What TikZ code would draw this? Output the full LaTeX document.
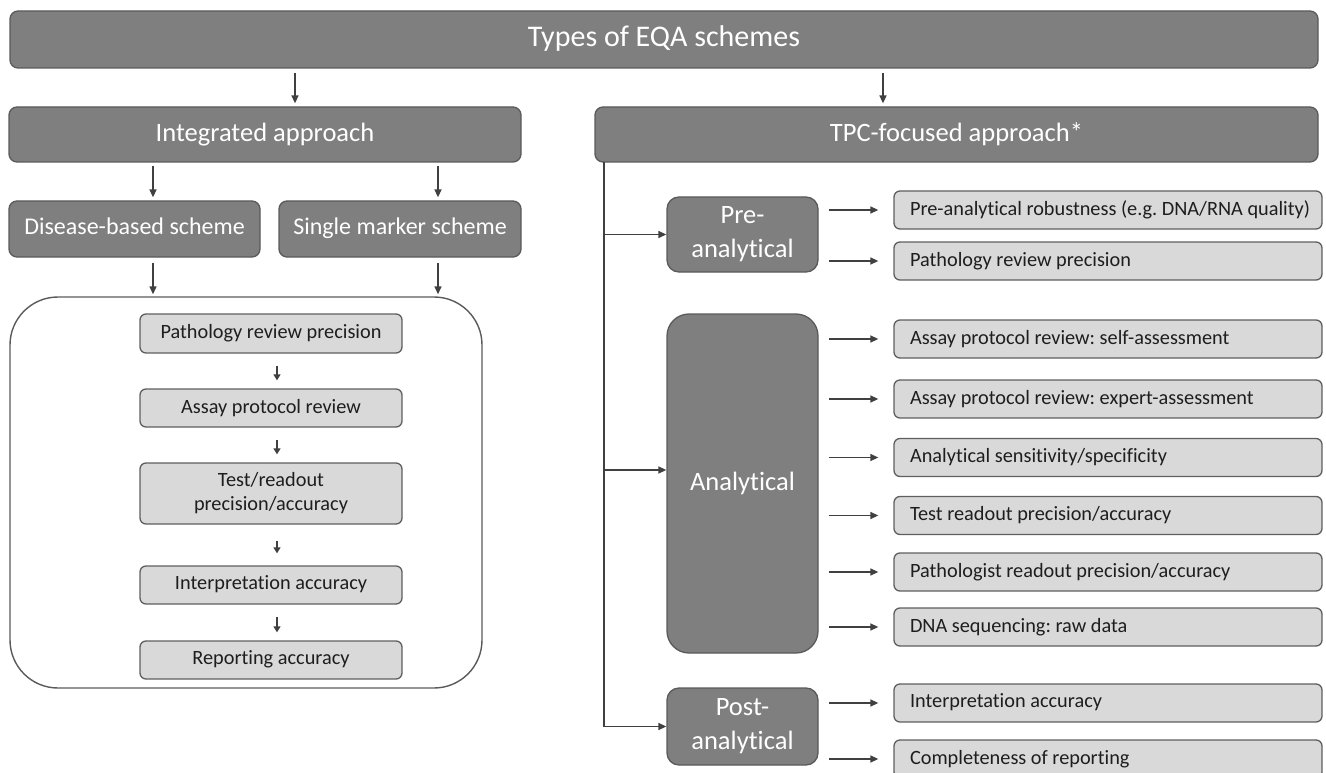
\documentclass[tikz,border=0pt]{standalone}
\usepackage{fontspec}
\setmainfont{Carlito}[Ligatures=NoCommon]
\frenchspacing
\usetikzlibrary{arrows.meta,calc}
\definecolor{darkfill}{HTML}{7F7F7F}
\definecolor{darkline}{HTML}{5A5A5A}
\definecolor{lightfill}{HTML}{D9D9D9}
\definecolor{lightline}{HTML}{5F5F5F}
\definecolor{arrowcol}{HTML}{404040}
\definecolor{txt}{HTML}{1E1E1E}
\newcommand{\vstrut}{\rule[-0.2em]{0pt}{0.8em}}
\newcommand{\rboxtext}[1]{\makebox[428pt][l]{\hspace{16pt}\vstrut #1}}
\tikzset{
  darkbox/.style={rectangle, rounded corners=8pt, fill=darkfill, draw=darkline, line width=1.3pt, text=white, inner sep=0pt, align=center},
  lightbox/.style={rectangle, rounded corners=6pt, fill=lightfill, draw=lightline, line width=1.3pt, text=txt, inner sep=0pt, align=center, minimum width=262pt, font=\fontsize{20.3}{24}\selectfont},
  rightbox/.style={rectangle, rounded corners=6pt, fill=lightfill, draw=lightline, line width=1.3pt, text=txt, inner sep=0pt, minimum height=38pt, font=\fontsize{20.3}{24}\selectfont},
  oneline/.style={execute at begin node={\vstrut}},
  arr/.style={draw=arrowcol, line width=1.4pt, -{Triangle[length=8pt,width=7pt]}},
  sarr/.style={draw=arrowcol, line width=1.4pt, -{Triangle[length=6pt,width=7pt]}},
  line/.style={draw=arrowcol, line width=1.4pt},
}
\begin{document}
\begin{tikzpicture}[x=1pt,y=-1pt]
\useasboundingbox (0,0) rectangle (1326,773);
% top
\node[darkbox, oneline, minimum width=1308pt, minimum height=57pt, font=\fontsize{30}{35}\selectfont] (top) at (664,39.5) {Types of EQA schemes};
\node[darkbox, oneline, minimum width=512pt, minimum height=55pt, font=\fontsize{26.5}{31}\selectfont] (integ) at (265,134.5) {Integrated approach};
\node[darkbox, oneline, minimum width=723pt, minimum height=55pt, font=\fontsize{26.5}{31}\selectfont] (tpc) at (956.5,134.5) {TPC-focused approach*};
\node[darkbox, oneline, minimum width=251pt, minimum height=56pt, font=\fontsize{24}{28}\selectfont] (disease) at (134.5,229) {Disease-based scheme};
\node[darkbox, oneline, minimum width=242pt, minimum height=56pt, font=\fontsize{24}{28}\selectfont] (single) at (400,229) {Single marker scheme};
% container
\node[rectangle, rounded corners=48pt, draw=darkline, line width=1.4pt, minimum width=472pt, minimum height=391pt, inner sep=0pt] (cont) at (246,492.5) {};
\node[lightbox, oneline, minimum height=39pt] (l1) at (271,333.5) {Pathology review precision};
\node[lightbox, oneline, minimum height=38pt] (l2) at (271,408) {Assay protocol review};
\node[lightbox, minimum height=61pt] (l3) at (271,493.5) {Test/readout\\precision/accuracy};
\node[lightbox, oneline, minimum height=38pt] (l4) at (271,585) {Interpretation accuracy};
\node[lightbox, oneline, minimum height=38pt] (l5) at (271,660) {Reporting accuracy};
% top arrows
\coordinate (xa) at (295,0);
\coordinate (xb) at (883,0);
\coordinate (xc) at (153,0);
\coordinate (xd) at (438,0);
\draw[arr, shorten <=4pt, shorten >=3pt] (top.south -| xa) -- (integ.north -| xa);
\draw[arr, shorten <=4pt, shorten >=3pt] (top.south -| xb) -- (tpc.north -| xb);
\draw[arr, shorten <=3pt, shorten >=3pt] (integ.south -| xc) -- (disease.north -| xc);
\draw[arr, shorten <=3pt, shorten >=3pt] (integ.south -| xd) -- (single.north -| xd);
\draw[arr, shorten <=5pt, shorten >=2pt] (disease.south -| xc) -- (cont.north -| xc);
\draw[arr, shorten <=5pt, shorten >=2pt] (single.south -| xd) -- (cont.north -| xd);
% inner arrows
\coordinate (xi) at (277,0);
\draw[sarr, shorten <=12pt, shorten >=8pt] (l1.south -| xi) -- (l2.north -| xi);
\draw[sarr, shorten <=12pt, shorten >=8pt] (l2.south -| xi) -- (l3.north -| xi);
\draw[sarr, shorten <=16pt, shorten >=12pt] (l3.south -| xi) -- (l4.north -| xi);
\draw[sarr, shorten <=12pt, shorten >=8pt] (l4.south -| xi) -- (l5.north -| xi);
% right side stages
\node[darkbox, rounded corners=12pt, minimum width=151pt, minimum height=75pt, font=\fontsize{26.5}{34}\selectfont] (pre) at (742.5,234.5) {Pre-\\analytical};
\node[darkbox, oneline, rounded corners=22pt, minimum width=151pt, minimum height=339pt, font=\fontsize{26.5}{31}\selectfont] (ana) at (742.5,483.5) {Analytical};
\node[darkbox, rounded corners=12pt, minimum width=151pt, minimum height=77pt, font=\fontsize{26.5}{34}\selectfont] (post) at (742.5,726.5) {Post-\\analytical};
% right boxes
\node[rightbox] (r1) at (1108,210) {\rboxtext{Pre-analytical robustness (e.g. DNA/RNA quality)}};
\node[rightbox] (r2) at (1108,261) {\rboxtext{Pathology review precision}};
\node[rightbox] (r3) at (1108,339) {\rboxtext{Assay protocol review: self-assessment}};
\node[rightbox] (r4) at (1108,399) {\rboxtext{Assay protocol review: expert-assessment}};
\node[rightbox] (r5) at (1108,457.5) {\rboxtext{Analytical sensitivity/specificity}};
\node[rightbox] (r6) at (1108,515.5) {\rboxtext{Test readout precision/accuracy}};
\node[rightbox] (r7) at (1108,572) {\rboxtext{Pathologist readout precision/accuracy}};
\node[rightbox] (r8) at (1108,627) {\rboxtext{DNA sequencing: raw data}};
\node[rightbox] (r9) at (1108,703) {\rboxtext{Interpretation accuracy}};
\node[rightbox] (r10) at (1108,759) {\rboxtext{Completeness of reporting}};
% spine
\coordinate (sp0) at (604,162);
\coordinate (sp1) at (604,234.5);
\coordinate (sp2) at (604,470);
\coordinate (sp3) at (604,726.5);
\draw[line] (sp0) -- (sp3);
\draw[arr] (sp1) -- (pre.west);
\draw[arr] (sp2) -- (sp2 -| ana.west);
\draw[arr] (sp3) -- (post.west);
% stage arrows
\foreach \s/\r in {pre/r1, pre/r2, ana/r3, ana/r4, ana/r5, ana/r6, ana/r7, ana/r8, post/r9, post/r10}{
  \draw[arr, shorten <=10pt, shorten >=15pt] (\s.east |- \r.west) -- (\r.west);
}
\end{tikzpicture}
\end{document}
